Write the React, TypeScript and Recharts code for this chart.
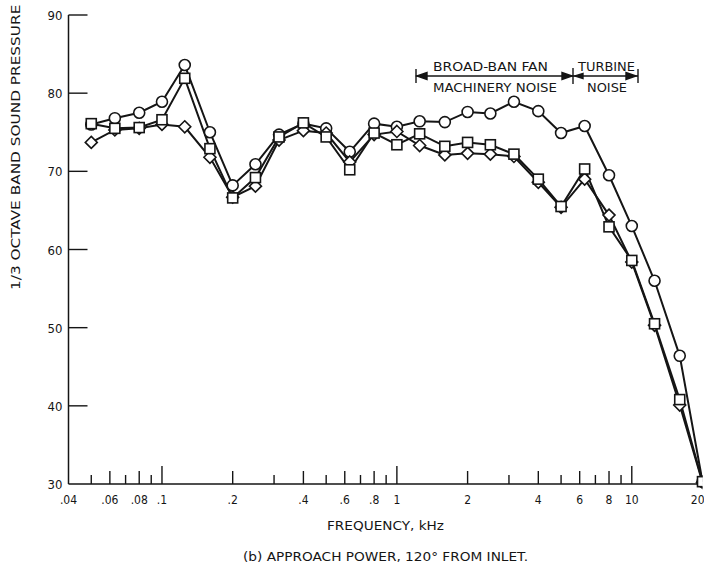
import React from 'react';
import { LineChart, Line, XAxis, YAxis } from 'recharts';

// 1/3 octave band centre frequencies, kHz
const freqs = [0.05, 0.063, 0.08, 0.1, 0.125, 0.16, 0.2, 0.25, 0.315, 0.4, 0.5, 0.63, 0.8, 1, 1.25, 1.6, 2, 2.5, 3.15, 4, 5, 6.3, 8, 10, 12.5, 16, 20];
const circleDb = [76.0, 76.8, 77.5, 78.9, 83.6, 75.0, 68.2, 70.9, 74.7, 76.1, 75.5, 72.5, 76.1, 75.7, 76.4, 76.3, 77.6, 77.4, 78.9, 77.7, 74.9, 75.8, 69.5, 63.0, 56.0, 46.4, 30.3];
const squareDb = [76.1, 75.5, 75.6, 76.6, 81.9, 72.9, 66.6, 69.2, 74.4, 76.2, 74.4, 70.2, 74.9, 73.4, 74.8, 73.2, 73.7, 73.4, 72.2, 69.0, 65.5, 70.3, 62.9, 58.6, 50.5, 40.8, 30.3];
const diamondDb = [73.7, 75.3, 75.5, 76.0, 75.7, 71.8, 66.7, 68.1, 74.0, 75.2, 74.9, 71.2, 74.7, 75.1, 73.3, 72.1, 72.3, 72.2, 71.9, 68.6, 65.4, 69.0, 64.4, 58.4, 50.3, 40.1, 30.2];

const xTicks = [0.04, 0.05, 0.06, 0.07, 0.08, 0.09, 0.1, 0.2, 0.3, 0.4, 0.5, 0.6, 0.7, 0.8, 0.9, 1, 2, 3, 4, 5, 6, 7, 8, 9, 10, 20];
const xLabels: Record<string, string> = {
  '0.04': '.04', '0.06': '.06', '0.08': '.08', '0.1': '.1', '0.2': '.2', '0.4': '.4',
  '0.6': '.6', '0.8': '.8', '1': '1', '2': '2', '4': '4', '6': '6', '8': '8', '10': '10', '20': '20',
};
const yTicks = [30, 40, 50, 60, 70, 80, 90];

const data = freqs.map((f, i) => ({ f, circle: circleDb[i], square: squareDb[i], diamond: diamondDb[i] }));

const INK = '#151515';
const FONT = "'DejaVu Sans Condensed','Liberation Sans Narrow','DejaVu Sans',sans-serif";

function XTick(props: any) {
  const { x, y, payload } = props;
  const v = payload.value;
  const label = xLabels[String(v)];
  let len = 9;
  if (v === 0.1 || v === 1 || v === 10) len = 18;
  else if (label) len = 13;
  if (v === 0.04 || v === 20) len = 0;
  // last label sits on the page edge, keep it inside
  const anchor = v === 20 ? 'end' : 'middle';
  const tx = v === 20 ? x + 2 : x;
  return (
    <g>
      {len > 0 && <line x1={x} y1={y} x2={x} y2={y - len} stroke={INK} strokeWidth={1.4} />}
      {label && (
        <text x={tx} y={y + 20} textAnchor={anchor} fontSize={12} fontFamily={FONT} fill={INK}>{label}</text>
      )}
    </g>
  );
}

function YTick(props: any) {
  const { x, y, payload } = props;
  return (
    <g>
      {payload.value !== 30 && <line x1={x} y1={y} x2={x + 19} y2={y} stroke={INK} strokeWidth={1.4} />}
      <text x={x - 6} y={y + 5} textAnchor="end" fontSize={13} fontFamily={FONT} fill={INK}>{payload.value}</text>
    </g>
  );
}

const circleDot = (p: any) => (
  <circle key={`c${p.index}`} cx={p.cx} cy={p.cy} r={5.5} fill="#fff" stroke={INK} strokeWidth={1.6} />
);
const squareDot = (p: any) => (
  <rect key={`s${p.index}`} x={p.cx - 5} y={p.cy - 5} width={10} height={10} fill="#fff" stroke={INK} strokeWidth={1.6} />
);
const diamondDot = (p: any) => (
  <path key={`d${p.index}`} d={`M${p.cx},${p.cy - 6}L${p.cx + 6},${p.cy}L${p.cx},${p.cy + 6}L${p.cx - 6},${p.cy}Z`}
    fill="#fff" stroke={INK} strokeWidth={1.6} />
);

function Annotation() {
  return (
    <svg width={704} height={568} style={{ position: 'absolute', left: 0, top: 0, pointerEvents: 'none' }}>
      {/* y axis title, its top runs off the page */}
      <text transform="translate(20,290) rotate(-90)" textAnchor="start" fontSize={12.5}
        textLength={367} lengthAdjust="spacingAndGlyphs"
        fontFamily={FONT} fill={INK}>1/3 OCTAVE BAND SOUND PRESSURE LEVEL, dB</text>

      {/* fan / turbine noise bracket */}
      <g stroke={INK} strokeWidth={1.4} fill={INK}>
        <line x1={416} y1={69} x2={416} y2={83} />
        <line x1={416} y1={76} x2={638} y2={76} />
        <path d="M417,76 L427,72.5 L427,79.5 Z" />
        <path d="M572,76 L562,72.5 L562,79.5 Z" />
        <line x1={573} y1={68} x2={573} y2={84} />
        <path d="M575,76 L583,73.5 L583,78.5 Z" />
        <path d="M636,76 L626,72.5 L626,79.5 Z" />
        <line x1={638} y1={69} x2={638} y2={83} />
      </g>
      <g fontFamily={FONT} fontSize={12} fill={INK}>
        <text x={433} y={71} textLength={115} lengthAdjust="spacingAndGlyphs">BROAD-BAN FAN</text>
        <text x={433} y={92} textLength={124} lengthAdjust="spacingAndGlyphs">MACHINERY NOISE</text>
        <text x={578} y={71} textLength={57} lengthAdjust="spacingAndGlyphs">TURBINE</text>
        <text x={587} y={92} textLength={40} lengthAdjust="spacingAndGlyphs">NOISE</text>
      </g>

      <g fontFamily={FONT} fontSize={12.5} fill={INK}>
        <text x={327} y={530} textLength={117} lengthAdjust="spacingAndGlyphs">FREQUENCY, kHz</text>
        <text x={243} y={561} textLength={285} lengthAdjust="spacingAndGlyphs">(b) APPROACH POWER, 120° FROM INLET.</text>
      </g>
    </svg>
  );
}

export default function App() {
  return (
    <div style={{ position: 'absolute', left: 0, top: 0, width: 704, height: 568, background: '#fff', overflow: 'hidden' }}>
      <LineChart width={704} height={568} data={data} margin={{ top: 15, right: 1.5, bottom: 54, left: 8.5 }}>
        <XAxis dataKey="f" type="number" scale="log" domain={[0.04, 20]} ticks={xTicks} interval={0}
          allowDataOverflow height={30} tickSize={0} tickMargin={0} tickLine={false}
          axisLine={{ stroke: INK, strokeWidth: 1.5 }} tick={<XTick />} />
        <YAxis type="number" domain={[30, 90]} ticks={yTicks} interval={0} width={60}
          tickSize={0} tickMargin={0} tickLine={false}
          axisLine={{ stroke: INK, strokeWidth: 1.5 }} tick={<YTick />} />
        <Line dataKey="circle" stroke={INK} strokeWidth={2} dot={circleDot} isAnimationActive={false} />
        <Line dataKey="diamond" stroke={INK} strokeWidth={2} dot={diamondDot} isAnimationActive={false} />
        <Line dataKey="square" stroke={INK} strokeWidth={2} dot={squareDot} isAnimationActive={false} />
      </LineChart>
      <Annotation />
    </div>
  );
}
